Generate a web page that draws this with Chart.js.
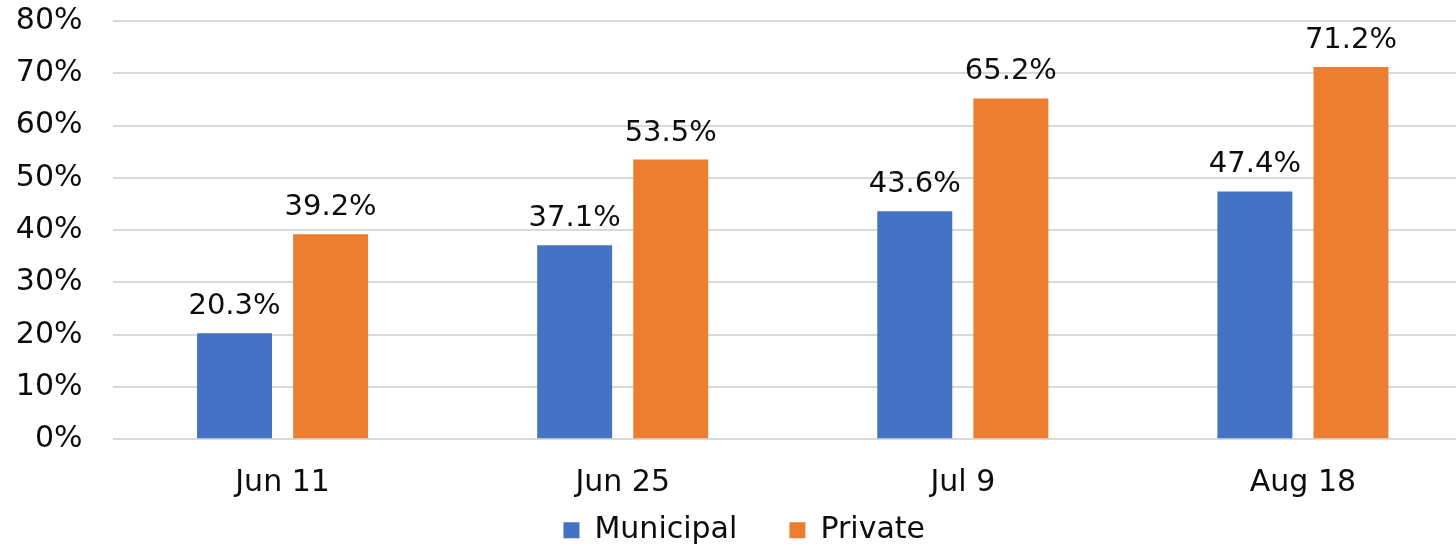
<!DOCTYPE html>
<html>
<head>
<meta charset="utf-8">
<script src="https://cdn.jsdelivr.net/npm/chart.js@4/dist/chart.umd.min.js"></script>
<style>
  html, body { margin: 0; padding: 0; background: #fff; overflow: hidden; width: 1456px; height: 550px; }
  /* the plot runs a little past the right edge, like the original */
  #wrap { width: 1473px; height: 550px; }
</style>
</head>
<body>
<div id="wrap"><canvas id="myChart"></canvas></div>
<script>
const categories = ['Jun 11', 'Jun 25', 'Jul 9', 'Aug 18']
const municipalValues = [20.3, 37.1, 43.6, 47.4]
const privateValues = [39.2, 53.5, 65.2, 71.2]
const yTicks = [0, 10, 20, 30, 40, 50, 60, 70, 80]

const FONT = "'DejaVu Sans', Verdana, sans-serif"
const TEXT = '#0d0d0d'

// draws the value above each bar
const barLabels = {
    id: 'barLabels',
    afterDatasetsDraw(chart) {
        const ctx = chart.ctx
        ctx.save()
        ctx.font = '29px ' + FONT
        ctx.fillStyle = TEXT
        ctx.textAlign = 'center'
        ctx.textBaseline = 'alphabetic'
        chart.data.datasets.forEach((ds, i) => {
            const meta = chart.getDatasetMeta(i)
            meta.data.forEach((bar, j) => {
                ctx.fillText(ds.data[j].toFixed(1) + '%', bar.x, bar.y - 19)
            })
        })
        ctx.restore()
    }
}

function drawChart() {
    const ctx = document.getElementById('myChart')
    const data = {
        labels: categories,
        datasets: [
            {
                label: 'Municipal',
                data: municipalValues,
                backgroundColor: '#4472c4',
                barPercentage: 0.78,
                categoryPercentage: 0.565
            },
            {
                label: 'Private',
                data: privateValues,
                backgroundColor: '#ed7d31',
                barPercentage: 0.78,
                categoryPercentage: 0.565
            }
        ]
    }

    const config = {
        type: 'bar',
        data: data,
        plugins: [barLabels],
        options: {
            responsive: true,
            maintainAspectRatio: false,
            animation: false,
            layout: {padding: {top: 21, right: 0, left: 15.5, bottom: -5.3}},
            scales: {
                x: {
                    grid: {display: false, drawTicks: false},
                    border: {display: false},
                    ticks: {color: TEXT, font: {family: FONT, size: 30}, padding: 26},
                    afterFit: (axis) => { axis.height = 62 }
                },
                y: {
                    min: 0,
                    max: 80,
                    afterBuildTicks: (axis) => { axis.ticks = yTicks.map(v => ({value: v})) },
                    grid: {color: '#d9d9d9', lineWidth: 2, drawTicks: false},
                    border: {display: false},
                    ticks: {
                        color: TEXT,
                        font: {family: FONT, size: 30},
                        padding: 30,
                        callback: v => v + '%'
                    },
                    afterFit: (axis) => {
                        axis.width = 97
                        axis.paddingTop = 0
                        axis.paddingBottom = 0
                    }
                }
            },
            plugins: {
                legend: {
                    position: 'bottom',
                    labels: {
                        color: TEXT,
                        font: {family: FONT, size: 30},
                        boxWidth: 16,
                        boxHeight: 16,
                        padding: 14,
                        // widen the gap between the two entries
                        generateLabels: (chart) => {
                            const items = Chart.defaults.plugins.legend.labels.generateLabels(chart)
                            items.forEach((it, i) => { if (i < items.length - 1) it.text += '    ' })
                            return items
                        }
                    }
                },
                tooltip: {enabled: false}
            }
        }
    }

    new Chart(ctx, config)
}

document.addEventListener('DOMContentLoaded', drawChart)
</script>
</body>
</html>
